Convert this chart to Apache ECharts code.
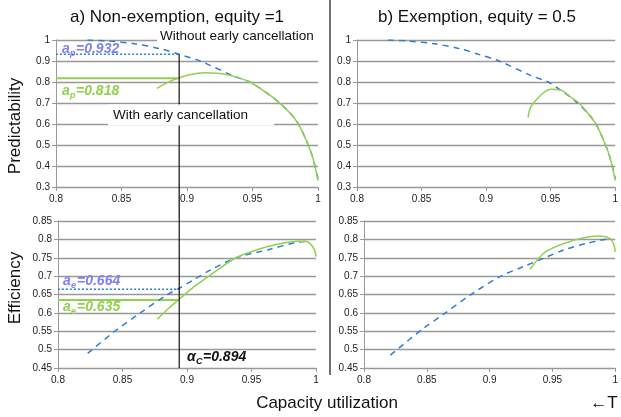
<html>
<head>
<meta charset="utf-8">
<script src="https://cdn.jsdelivr.net/npm/echarts@6/dist/echarts.min.js"></script>
</head>
<body style="margin:0">
<div id="main" style="width:621px;height:417px"></div>
<script>
// predictability, without early cancellation (same curve in both panels)
var predNoCancel = [[0.824,1.0],[0.84,0.995],[0.86,0.982],[0.88,0.958],[0.894,0.932],[0.91,0.90],[0.935,0.83],[0.948,0.80],[0.958,0.76],[0.968,0.715],[0.979,0.65],[0.985,0.60],[0.991,0.523],[0.996,0.44],[1.0,0.34]];
// predictability, with early cancellation
var predCancelA = [[0.877,0.77],[0.885,0.797],[0.894,0.82],[0.903,0.836],[0.913,0.844],[0.925,0.84],[0.935,0.828],[0.948,0.80],[0.958,0.76],[0.968,0.715],[0.979,0.65],[0.985,0.60],[0.991,0.523],[0.996,0.44],[1.0,0.33]];
var predCancelB = [[0.9325,0.63],[0.9345,0.68],[0.9396,0.72],[0.9447,0.75],[0.95,0.765],[0.955,0.764],[0.96,0.755],[0.965,0.73],[0.972,0.70],[0.979,0.65],[0.985,0.60],[0.991,0.523],[0.996,0.44],[1.0,0.33]];
// efficiency
var effNoCancelA = [[0.823,0.49],[0.844,0.55],[0.865,0.603],[0.885,0.65],[0.894,0.667],[0.905,0.69],[0.919,0.718],[0.938,0.75],[0.963,0.772],[0.985,0.792],[0.992,0.794]];
var effCancelA = [[0.877,0.583],[0.885,0.61],[0.894,0.637],[0.905,0.67],[0.917,0.70],[0.938,0.75],[0.96,0.778],[0.975,0.79],[0.985,0.795],[0.992,0.795],[0.996,0.787],[0.999,0.77],[1.0,0.753]];
var effNoCancelB = [[0.821,0.485],[0.847,0.557],[0.864,0.598],[0.886,0.652],[0.909,0.70],[0.927,0.726],[0.944,0.75],[0.959,0.771],[0.977,0.789],[0.995,0.802]];
var effCancelB = [[0.932,0.718],[0.937,0.74],[0.943,0.762],[0.95,0.776],[0.959,0.789],[0.974,0.804],[0.987,0.809],[0.996,0.802],[0.999,0.785],[1.0,0.766]];
// reference values
var alphaC = 0.894;
var apNo = 0.932, apWith = 0.818;
var aeNo = 0.664, aeWith = 0.635;

var blue = '#2e7fd0', green = '#92d050', label = '#7f7ff5';
var font = 'Liberation Sans, Arial, sans-serif';

var myChart = echarts.init(document.getElementById('main'));

function xAx(grid) {
    return {
        type: 'value', gridIndex: grid, min: 0.8, max: 1, interval: 0.05,
        axisLine: { lineStyle: { color: '#999' } },
        axisTick: { show: true, length: 4, lineStyle: { color: '#999' } },
        splitLine: { show: false },
        axisLabel: { color: '#222', fontSize: 10, fontFamily: font, margin: 7,
            formatter: function (v) { return String(+v.toFixed(2)); } }
    };
}
function yAx(grid, min, max, step) {
    return {
        type: 'value', gridIndex: grid, min: min, max: max, interval: step,
        axisLine: { show: true, lineStyle: { color: '#999' } },
        axisTick: { show: true, length: 4, lineStyle: { color: '#999' } },
        splitLine: { lineStyle: { color: '#999', width: 1.3 } },
        axisLabel: { color: '#222', fontSize: 10, fontFamily: font, margin: 6,
            formatter: function (v) { return String(+v.toFixed(2)); } }
    };
}
function line(g, data, color, type, width) {
    return {
        type: 'line', xAxisIndex: g, yAxisIndex: g, data: data, symbol: 'none',
        smooth: 0.3, animation: false,
        lineStyle: { color: color, type: type, width: width }
    };
}
function hline(g, y, color, type, width) {
    return line(g, [[0.8, y], [alphaC, y]], color, type, width);
}
// italic bold label with a subscript: main letter, subscript, rest
function subLabel(x, y, main, s, rest, color, mainW, subW) {
    var f = 'italic bold 14px ' + font;
    return [
        { type: 'text', z: 20, style: { text: main, x: x, y: y, fill: color, font: f, verticalAlign: 'middle' } },
        { type: 'text', z: 20, style: { text: s, x: x + mainW, y: y + 5, fill: color, font: 'italic bold 9px ' + font, verticalAlign: 'middle' } },
        { type: 'text', z: 20, style: { text: rest, x: x + mainW + subW, y: y, fill: color, font: f, verticalAlign: 'middle' } }
    ];
}

var option = {
    backgroundColor: '#fff',
    animation: false,
    grid: [
        { left: 56, top: 40, width: 262, height: 147 },
        { left: 58, top: 221, width: 258, height: 147 },
        { left: 357, top: 40, width: 262, height: 147 },
        { left: 364, top: 221, width: 256, height: 147 }
    ],
    xAxis: [xAx(0), xAx(1), xAx(2), xAx(3)],
    yAxis: [yAx(0, 0.3, 1, 0.1), yAx(1, 0.45, 0.85, 0.05), yAx(2, 0.3, 1, 0.1), yAx(3, 0.45, 0.85, 0.05)],
    series: [
        hline(0, apNo, blue, [2, 2], 1.5),
        hline(0, apWith, green, 'solid', 2),
        line(0, predNoCancel, blue, [6, 5], 1.5),
        line(0, predCancelA, green, 'solid', 1.5),
        hline(1, aeNo, blue, [2, 2], 1.5),
        hline(1, aeWith, green, 'solid', 2),
        line(1, effNoCancelA, blue, [6, 5], 1.5),
        line(1, effCancelA, green, 'solid', 1.5),
        line(2, predNoCancel, blue, [6, 5], 1.5),
        line(2, predCancelB, green, 'solid', 1.5),
        line(3, effNoCancelB, blue, [6, 5], 1.5),
        line(3, effCancelB, green, 'solid', 1.5)
    ]
};
myChart.setOption(option);

var pTop = myChart.convertToPixel({ xAxisIndex: 0, yAxisIndex: 0 }, [alphaC, apNo]);
var pBot = myChart.convertToPixel({ xAxisIndex: 1, yAxisIndex: 1 }, [alphaC, 0.45]);

var t = function (text, x, y, size, extra) {
    var st = { text: text, x: x, y: y, fill: '#111', font: size + 'px ' + font, align: 'center', verticalAlign: 'middle' };
    for (var k in extra) st[k] = extra[k];
    return { type: 'text', z: 15, style: st };
};

var g = [
    { type: 'line', z: 12, shape: { x1: pTop[0], y1: pTop[1], x2: pBot[0], y2: pBot[1] }, style: { stroke: '#111', lineWidth: 1.2 } },
    { type: 'line', z: 12, shape: { x1: 330, y1: 0, x2: 330, y2: 375 }, style: { stroke: '#111', lineWidth: 1.2 } },
    t('a) Non-exemption, equity =1', 177, 17, 17),
    t('b) Exemption, equity = 0.5', 477, 17, 17),
    t('Capacity utilization', 327, 403, 17),
    t('\u2190T', 604, 403, 17),
    { type: 'text', z: 15, rotation: Math.PI / 2, x: 15, y: 126, style: { text: 'Predictability', fill: '#111', font: '17px ' + font, align: 'center', verticalAlign: 'middle' } },
    { type: 'text', z: 15, rotation: Math.PI / 2, x: 15, y: 288, style: { text: 'Efficiency', fill: '#111', font: '17px ' + font, align: 'center', verticalAlign: 'middle' } },
    t('Without early cancellation', 157, 36, 13.5, { align: 'left', backgroundColor: '#fff', padding: [3, 6, 3, 3] }),
    t('With early cancellation', 108, 115, 13.5, { align: 'left', backgroundColor: '#fff', padding: [2, 26, 5, 5] })
];
g = g.concat(subLabel(62, 49, 'a', 'p', '=0.932', label, 8, 6));
g = g.concat(subLabel(62, 91, 'a', 'p', '=0.818', green, 8, 6));
g = g.concat(subLabel(63, 281, 'a', 'e', '=0.664', label, 8, 6));
g = g.concat(subLabel(63, 307, 'a', 'e', '=0.635', green, 8, 6));
g = g.concat(subLabel(187, 357, '\u03b1', 'C', '=0.894', '#111', 9, 7));

myChart.setOption({ graphic: g });
</script>
</body>
</html>
